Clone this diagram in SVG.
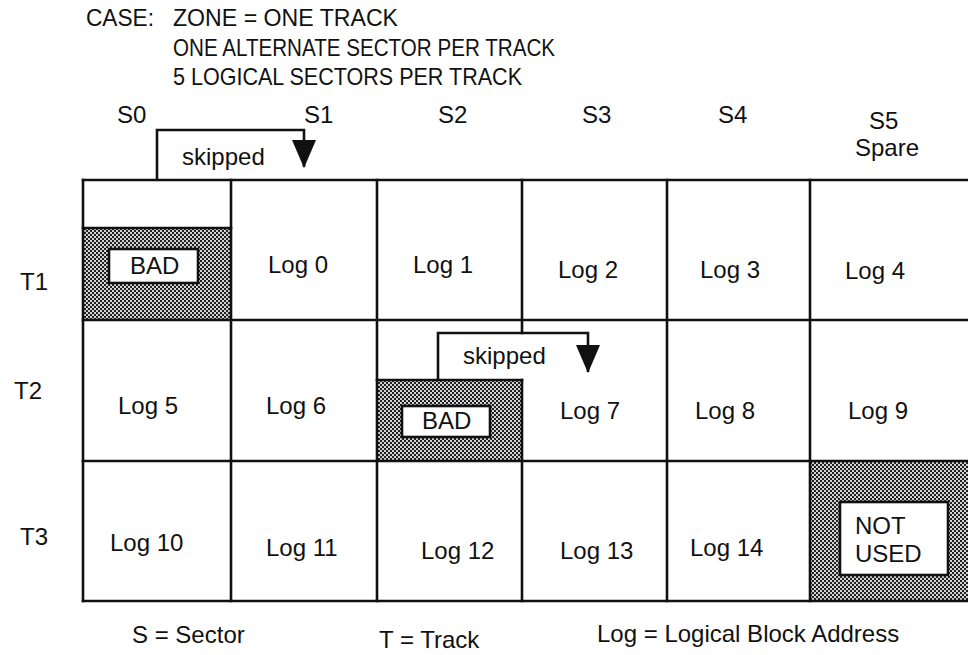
<svg xmlns="http://www.w3.org/2000/svg" width="968" height="655" viewBox="0 0 968 655">
<style>
text{font-family:"Liberation Sans",Arial,Helvetica,sans-serif;fill:#111;font-size:24px}
.ln{stroke:#111;stroke-width:2.6;fill:none;stroke-linecap:square}
.con{stroke:#111;stroke-width:2.6;fill:none}
.box{fill:#fff;stroke:#111;stroke-width:2.6}
.hat{fill:url(#dither)}
</style>
<defs>
<pattern id="dither" width="4" height="4" patternUnits="userSpaceOnUse">
<rect width="4" height="4" fill="#d2d2d2"/>
<rect width="2" height="2" fill="#222"/>
<rect x="2" y="2" width="2" height="2" fill="#222"/>
</pattern>
<marker id="arr" markerUnits="userSpaceOnUse" markerWidth="28" markerHeight="24" viewBox="0 0 28 24" refX="27" refY="12" orient="auto">
<path d="M0,0 L28,12 L0,24 Z" fill="#111"/>
</marker>
</defs>
<rect width="968" height="655" fill="#fff"/>

<g id="header">
<text x="86" y="26" textLength="68" lengthAdjust="spacingAndGlyphs">CASE:</text>
<text x="173" y="26" textLength="225" lengthAdjust="spacingAndGlyphs">ZONE = ONE TRACK</text>
<text x="173" y="56" textLength="382" lengthAdjust="spacingAndGlyphs">ONE ALTERNATE SECTOR PER TRACK</text>
<text x="173" y="85" textLength="349" lengthAdjust="spacingAndGlyphs">5 LOGICAL SECTORS PER TRACK</text>
</g>

<g id="sector-labels">
<text x="117" y="123">S0</text>
<text x="304" y="123">S1</text>
<text x="438" y="123">S2</text>
<text x="582" y="123">S3</text>
<text x="718" y="123">S4</text>
<text x="869" y="129">S5</text>
<text x="855" y="156">Spare</text>
</g>

<g id="track-labels">
<text x="20" y="290">T1</text>
<text x="14" y="399">T2</text>
<text x="20" y="545">T3</text>
</g>

<g id="cell-T1-S0">
<rect class="hat" x="83" y="228" width="148" height="92"/>
<rect class="box" x="109" y="249" width="89" height="34"/>
<text x="130" y="274" font-size="23">BAD</text>
</g>
<g id="cell-T1-S1"><text x="268" y="273">Log 0</text></g>
<g id="cell-T1-S2"><text x="413" y="273">Log 1</text></g>
<g id="cell-T1-S3"><text x="558" y="278">Log 2</text></g>
<g id="cell-T1-S4"><text x="700" y="278">Log 3</text></g>
<g id="cell-T1-S5"><text x="845" y="279">Log 4</text></g>

<g id="cell-T2-S0"><text x="118" y="414">Log 5</text></g>
<g id="cell-T2-S1"><text x="266" y="414">Log 6</text></g>
<g id="cell-T2-S2">
<rect class="hat" x="377" y="380" width="145" height="81"/>
<rect class="box" x="402" y="406" width="88" height="31"/>
<text x="422" y="429" font-size="23">BAD</text>
</g>
<g id="cell-T2-S3"><text x="560" y="419">Log 7</text></g>
<g id="cell-T2-S4"><text x="695" y="419">Log 8</text></g>
<g id="cell-T2-S5"><text x="848" y="419">Log 9</text></g>

<g id="cell-T3-S0"><text x="110" y="551">Log 10</text></g>
<g id="cell-T3-S1"><text x="266" y="556">Log 11</text></g>
<g id="cell-T3-S2"><text x="421" y="559">Log 12</text></g>
<g id="cell-T3-S3"><text x="560" y="559">Log 13</text></g>
<g id="cell-T3-S4"><text x="690" y="556">Log 14</text></g>
<g id="cell-T3-S5">
<rect class="hat" x="810" y="461" width="158" height="140"/>
<rect class="box" x="840" y="502" width="108" height="73"/>
<text x="855" y="534" font-size="23">NOT</text>
<text x="855" y="562" font-size="23">USED</text>
</g>

<g id="grid">
<path class="ln" d="M83,180 H968 M83,320 H968 M83,461 H968 M83,601 H968"/>
<path class="ln" d="M83,180 V601 M231,180 V601 M377,180 V601 M667,180 V601 M810,180 V601"/>
<path class="ln" d="M522,180 V333 M522,380 V601"/>
<path class="ln" d="M83,228 H231 M377,380 H522"/>
</g>

<g id="connectors">
<path class="con" d="M157,180 V130 H304 V167" marker-end="url(#arr)"/>
<text x="182" y="165">skipped</text>
<path class="con" d="M438,380 V333 H588 V372" marker-end="url(#arr)"/>
<text x="463" y="364">skipped</text>
</g>

<g id="legend">
<text x="132" y="643">S = Sector</text>
<text x="379" y="648">T = Track</text>
<text x="597" y="642">Log = Logical Block Address</text>
</g>
</svg>
